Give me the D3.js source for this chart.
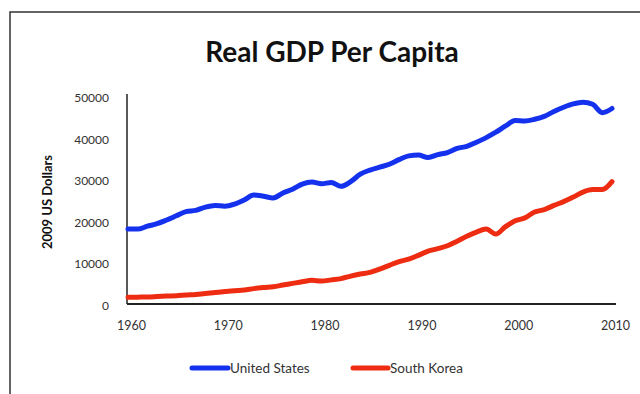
<!DOCTYPE html>
<html>
<head>
<meta charset="utf-8">
<script src="https://cdn.jsdelivr.net/npm/d3@7"></script>
<style>
html,body{margin:0;padding:0;background:#fff;}
svg{display:block;}
</style>
</head>
<body>
<svg id="chart" width="640" height="394"></svg>
<script>
const years = d3.range(1960, 2011);
const usValues = [18000,18000,18700,19300,20200,21200,22200,22500,23300,23700,
  23500,24000,25000,26200,25900,25500,26700,27600,28800,29300,
  28900,29200,28300,29400,31200,32200,32900,33600,34700,35600,
  35800,35200,35900,36400,37400,37900,38900,40000,41300,42800,
  44100,44000,44400,45100,46300,47300,48100,48500,48000,46000,47000];
const krValues = [1600,1650,1700,1800,1900,1980,2150,2300,2500,2780,
  3000,3200,3350,3700,3950,4150,4550,4950,5350,5700,
  5500,5800,6100,6700,7200,7600,8400,9300,10200,10800,
  11700,12700,13300,14000,15100,16300,17300,18000,16800,18600,
  20000,20700,22100,22700,23700,24600,25700,26900,27500,27500,29400];
const seriesNames = ["United States", "South Korea"];
const xTicks = [1960, 1970, 1980, 1990, 2000, 2010];
const yTicks = [0, 10000, 20000, 30000, 40000, 50000];
const colors = ["#1432ee", "#ee2c12"];

const svg = d3.select("#chart");
const font = "Lato, 'Open Sans', sans-serif";

svg.append("rect").attr("x", 10).attr("y", 12).attr("width", 700).attr("height", 500)
  .attr("fill", "none").attr("stroke", "#333").attr("stroke-width", 1.5);

svg.append("text").attr("x", 332).attr("y", 62).attr("text-anchor", "middle")
  .attr("font-family", font).attr("font-weight", "bold").attr("font-size", 28)
  .attr("fill", "#111").text("Real GDP Per Capita");

const x = d3.scaleLinear().domain([1960, 2010]).range([128, 612]);
const y = d3.scaleLinear().domain([0, 50000]).range([304, 96]);

const yAxis = svg.append("g").attr("transform", "translate(127,0)")
  .call(d3.axisLeft(y).tickValues(yTicks).tickSize(0).tickPadding(18).tickFormat(d3.format("d")));
yAxis.select(".domain").attr("stroke", "#222").attr("stroke-width", 1.5).attr("d", "M0,94V304");
yAxis.selectAll("text").attr("font-family", font).attr("font-size", 12).attr("fill", "#333")
  .attr("dy", "0.45em");

const xAxis = svg.append("g").attr("transform", "translate(0,304)")
  .call(d3.axisBottom(x).tickValues(xTicks).tickSize(0).tickPadding(17).tickFormat(d3.format("d")));
xAxis.select(".domain").attr("stroke", "#222").attr("stroke-width", 2).attr("d", "M127,0H616");
xAxis.selectAll("text").attr("font-family", font).attr("font-size", 12.5).attr("fill", "#333")
  .attr("dx", "3");

svg.append("text").attr("transform", "translate(52,202) rotate(-90)").attr("text-anchor", "middle")
  .attr("font-family", font).attr("font-weight", "bold").attr("font-size", 13).attr("fill", "#111")
  .text("2009 US Dollars");

const line = d3.line().x((d, i) => x(years[i])).y(d => y(d)).curve(d3.curveMonotoneX);
[usValues, krValues].forEach((vals, i) => {
  svg.append("path").attr("d", line(vals)).attr("fill", "none")
    .attr("stroke", colors[i]).attr("stroke-width", 5).attr("stroke-linejoin", "round").attr("stroke-linecap", "round");
});

const legendPos = [[192, 230], [353, 390]];
seriesNames.forEach((name, i) => {
  const [lx, tx] = legendPos[i];
  svg.append("line").attr("x1", lx).attr("x2", tx - 2).attr("y1", 368).attr("y2", 368)
    .attr("stroke", colors[i]).attr("stroke-width", 5).attr("stroke-linecap", "round");
  svg.append("text").attr("x", tx).attr("y", 368).attr("dy", "0.35em")
    .attr("font-family", font).attr("font-size", 13.5).attr("fill", "#333").text(name);
});
</script>
</body>
</html>
